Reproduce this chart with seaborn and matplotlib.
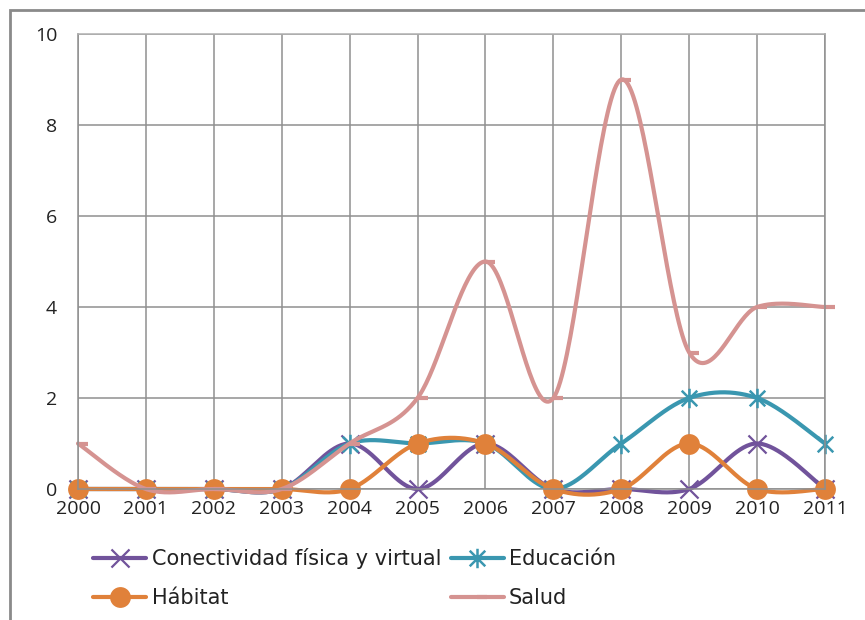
import numpy as np
import pandas as pd
import matplotlib
matplotlib.use("Agg")
import matplotlib.pyplot as plt
from matplotlib.path import Path
from matplotlib.lines import Line2D
from matplotlib.patches import Rectangle
import seaborn as sns

years = [2000, 2001, 2002, 2003, 2004, 2005, 2006, 2007, 2008, 2009, 2010, 2011]
conectividad = [0, 0, 0, 0, 1, 0, 1, 0, 0, 0, 1, 0]
educacion = [0, 0, 0, 0, 1, 1, 1, 0, 1, 2, 2, 1]
habitat = [0, 0, 0, 0, 0, 1, 1, 0, 0, 1, 0, 0]
salud = [1, 0, 0, 0, 1, 2, 5, 2, 9, 3, 4, 4]
series_names = ["Conectividad física y virtual", "Educación", "Hábitat", "Salud"]
y_ticks = [0, 2, 4, 6, 8, 10]

colors = ["#71539B", "#3A97B0", "#E0813A", "#D59391"]

sns.set_theme(style="white")
plt.rcParams['font.family'] = ['Open Sans', 'DejaVu Sans']


def smooth(x, y, n=40):
    P = np.column_stack([np.asarray(x, float), np.asarray(y, float)])
    m = len(P)
    out = []
    for i in range(m - 1):
        p0 = P[i - 1] if i > 0 else P[i]
        p1 = P[i]
        p2 = P[i + 1]
        p3 = P[i + 2] if i + 2 < m else P[i + 1]
        c1 = p1 + (p2 - p0) / 6.0
        c2 = p2 - (p3 - p1) / 6.0
        t = np.linspace(0, 1, n, endpoint=(i == m - 2))[:, None]
        seg = ((1 - t) ** 3) * p1 + 3 * ((1 - t) ** 2) * t * c1 + 3 * (1 - t) * t ** 2 * c2 + t ** 3 * p2
        out.append(seg)
    out = np.vstack(out)
    return out[:, 0], out[:, 1]


# custom markers
x_marker = Path([(-1, -1), (1, 1), (-1, 1), (1, -1)],
                [Path.MOVETO, Path.LINETO, Path.MOVETO, Path.LINETO])
ast_marker = Path([(-1, -1), (1, 1), (-1, 1), (1, -1), (0, -1.25), (0, 1.25)],
                  [Path.MOVETO, Path.LINETO, Path.MOVETO, Path.LINETO, Path.MOVETO, Path.LINETO])
dash_marker = Path([(0, 0), (1, 0)], [Path.MOVETO, Path.LINETO])

marker_specs = [
    dict(marker=x_marker, markersize=13, markeredgewidth=1.6, markerfacecolor="none"),
    dict(marker=ast_marker, markersize=14, markeredgewidth=1.8, markerfacecolor="none"),
    dict(marker="o", markersize=15, markeredgewidth=0),
    dict(marker=dash_marker, markersize=14, markeredgewidth=3.0, markerfacecolor="none"),
]

W, H = 865, 620
fig = plt.figure(figsize=(W / 100, H / 100), dpi=100)
ax = fig.add_axes([78 / W, 1 - 489 / H, (825 - 78) / W, (489 - 34) / H])

data = [conectividad, educacion, habitat, salud]
handles = []
for name, vals, col, ms in zip(series_names, data, colors, marker_specs):
    sx, sy = smooth(years, vals)
    df = pd.DataFrame({"year": sx, "value": sy})
    sns.lineplot(data=df, x="year", y="value", ax=ax, color=col, linewidth=3.0,
                 sort=False, estimator=None, clip_on=False, solid_capstyle="round")
    ax.plot(years, vals, linestyle="none", color=col, markeredgecolor=col,
            clip_on=False, **ms)
    handles.append(Line2D([0], [0], color=col, linewidth=3.0, markeredgecolor=col, **ms))

ax.set_xlim(2000, 2011)
ax.set_ylim(0, 10)
ax.set_xticks(years)
ax.set_xticklabels([str(y) for y in years])
ax.set_yticks(y_ticks)
ax.set_yticklabels([str(v) for v in y_ticks])
ax.set_xlabel("")
ax.set_ylabel("")
ax.grid(True, color="#8f8f8f", linewidth=1.1)
ax.set_axisbelow(True)
for s in ax.spines.values():
    s.set_color("#8f8f8f")
    s.set_linewidth(1.1)
ax.spines["top"].set_color("#b0b0b0")
ax.tick_params(axis="x", length=0, pad=8, labelsize=14, colors="#222222")
ax.tick_params(axis="y", length=6, width=1.1, color="#8f8f8f", pad=9, labelsize=14, labelcolor="#222222")

order = [0, 2, 1, 3]
leg = fig.legend([handles[i] for i in order], [series_names[i] for i in order],
                 ncol=2, loc="upper left", bbox_to_anchor=(85 / W, 1 - 540 / H),
                 frameon=False, prop={"family": ["DejaVu Sans"], "size": 15},
                 handlelength=2.55, handletextpad=0.25,
                 columnspacing=0.45, labelspacing=0.9, borderaxespad=0)
for t in leg.get_texts():
    t.set_color("#222222")

fig.patches.append(Rectangle((10 / W, -0.1), 1.2, 1 - 10 / H + 0.1, transform=fig.transFigure,
                             fill=False, edgecolor="#8a8a8a", linewidth=2.0))

fig.savefig("out.png", dpi=100)
